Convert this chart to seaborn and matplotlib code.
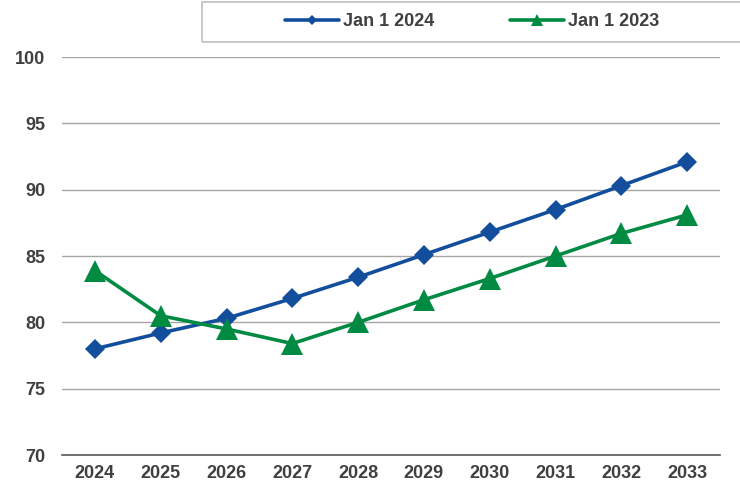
import pandas as pd
import matplotlib.pyplot as plt
import seaborn as sns
from matplotlib.patches import Rectangle

# 数据
years = ['2024', '2025', '2026', '2027', '2028', '2029', '2030', '2031', '2032', '2033']
jan_2024 = [78.0, 79.2, 80.3, 81.8, 83.4, 85.1, 86.8, 88.5, 90.3, 92.1]
jan_2023 = [83.9, 80.5, 79.5, 78.4, 80.0, 81.7, 83.3, 85.0, 86.7, 88.1]
y_ticks = [70, 75, 80, 85, 90, 95, 100]

df = pd.DataFrame({'pos': range(len(years)), 'year': years,
                   'Jan 1 2024': jan_2024, 'Jan 1 2023': jan_2023})

sns.set_style('white')
plt.rcParams['font.family'] = ['Liberation Sans', 'DejaVu Sans']
plt.rcParams['font.weight'] = 'bold'

fig = plt.figure(figsize=(7.4, 4.87), dpi=100)
ax = fig.add_axes([62 / 740, 32 / 487, 658 / 740, 398 / 487])

blue = '#134E9C'
green = '#008A42'
sns.lineplot(data=df, x='pos', y='Jan 1 2024', ax=ax, color=blue, lw=2.6,
             marker='D', markersize=10, markeredgewidth=0, label='Jan 1 2024')
sns.lineplot(data=df, x='pos', y='Jan 1 2023', ax=ax, color=green, lw=2.6,
             marker='^', markersize=16, markeredgewidth=0, label='Jan 1 2023')

ax.set_xlim(-0.5, len(years) - 0.5)
ax.set_ylim(70, 100)
ax.set_yticks(y_ticks)
ax.set_xticks(range(len(years)))
ax.set_xticklabels(years)
ax.set_xticks([i - 0.5 for i in range(len(years) + 1)], minor=True)
ax.tick_params(axis='x', which='major', length=0, pad=7, labelsize=13, labelcolor='#404040')
ax.tick_params(axis='x', which='minor', length=4, width=1, color='#595959', direction='out')
ax.tick_params(axis='y', length=0, pad=12, labelsize=13, labelcolor='#404040')
ax.yaxis.grid(True, color='#A6A6A6', lw=1)
ax.set_axisbelow(True)
for s in ['left', 'right', 'top']:
    ax.spines[s].set_visible(False)
ax.spines['bottom'].set_color('#595959')
ax.spines['bottom'].set_linewidth(1.2)
ax.set_xlabel('')
ax.set_ylabel('')

# 图例
ax.get_legend().remove()
h, l = ax.get_legend_handles_labels()
fig.legend(h, l, loc='center', bbox_to_anchor=(472 / 740, 1 - 22 / 487), ncol=2,
           frameon=False, markerscale=0.5, handlelength=3.0, columnspacing=4.2,
           handletextpad=0.2, prop={'size': 13, 'weight': 'bold'}, labelcolor='#404040')
fig.patches.append(Rectangle((202 / 740, 1 - 42 / 487), 540 / 740, 40 / 487,
                             transform=fig.transFigure, fill=False,
                             edgecolor='#BFBFBF', lw=1.2))

plt.savefig('out.png', dpi=100)
